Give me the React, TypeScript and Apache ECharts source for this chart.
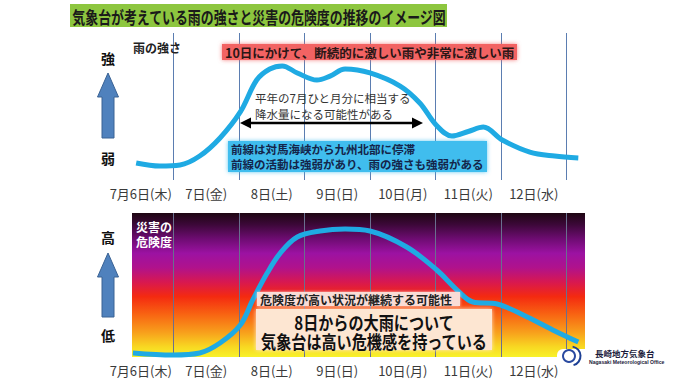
import React, { useEffect, useRef } from 'react';
import * as echarts from 'echarts';

// Day labels (category axis, one per day; last slot is padding)
const dayLabels = ['7月6日(木)', '7日(金)', '8日(土)', '9日(日)', '10日(月)', '11日(火)', '12日(水)', ''];

// Rain intensity curve (x in days from the start of 7/6, y relative level 0-100)
const rainDays = [0.43, 0.79, 1.10, 1.40, 1.71, 2.02, 2.27, 2.47, 2.66, 2.89, 3.19, 3.39, 3.62, 4.0, 4.46, 4.76, 5.01, 5.25, 5.50, 5.73, 6.02, 6.44, 6.82, 7.18];
const rainLevel = [11.6, 9.5, 10.2, 16.3, 28.6, 46.3, 68.0, 75.5, 77.6, 72.8, 68.0, 70.7, 75.5, 72.8, 63.9, 52.4, 37.4, 29.9, 33.0, 36.0, 27.2, 19.0, 16.3, 15.0];

// Disaster risk curve
const riskDays = [0.38, 0.99, 1.40, 1.71, 2.02, 2.21, 2.43, 2.63, 2.89, 3.24, 3.62, 4.0, 4.56, 5.02, 5.33, 5.57, 5.94, 6.40, 6.79, 7.18];
const riskLevel = [2.8, 1.4, 2.8, 9.7, 22.2, 39.6, 58.3, 72.2, 83.3, 87.5, 88.9, 87.5, 76.4, 60.4, 46.5, 38.2, 36.8, 27.8, 18.8, 10.4];

const FONT = "'Noto Sans CJK JP', 'Noto Sans CJK SC', sans-serif";

const txt = (text: string, x: number, y: number, size: number, opts: any = {}) => ({
  type: 'text',
  x,
  y,
  z: 100,
  scaleX: opts.scaleX ?? 1,
  style: {
    text,
    fill: opts.fill ?? '#222',
    font: `${opts.weight ?? 'bold'} ${size}px ${FONT}`,
    textAlign: opts.align ?? 'left',
    textVerticalAlign: 'middle',
  },
});

const upArrow = (top: number, headBase: number, bottom: number) => ({
  type: 'polygon',
  z: 100,
  shape: {
    points: [
      [108, top], [118.5, headBase], [114, headBase], [114, bottom],
      [102, bottom], [102, headBase], [97.5, headBase],
    ],
  },
  style: { fill: '#4f81bd', stroke: '#3a6294', lineWidth: 1 },
});

export default function App() {
  const ref = useRef<HTMLDivElement>(null);

  useEffect(() => {
    document.body.style.margin = '0';
    const chart = echarts.init(ref.current!, undefined, { renderer: 'svg' });

    const valueX = (gridIndex: number, color: string) => ({
      type: 'value',
      gridIndex,
      min: 0,
      max: 8,
      interval: 1,
      axisLabel: { show: false },
      axisLine: { show: false },
      axisTick: { show: false },
      splitLine: { show: true, showMinLine: false, showMaxLine: false, lineStyle: { color, width: 1 } },
    });
    const catX = (gridIndex: number) => ({
      type: 'category',
      gridIndex,
      data: dayLabels,
      boundaryGap: true,
      position: 'bottom',
      axisLine: { show: false },
      axisTick: { show: false },
      splitLine: { show: false },
      axisLabel: { interval: 0, margin: 7, fontSize: 13, color: '#3a3a3a', fontFamily: FONT },
    });

    const gradient = new echarts.graphic.LinearGradient(0, 0, 0, 1, [
      { offset: 0, color: '#1e0612' },
      { offset: 0.08, color: '#3c0838' },
      { offset: 0.18, color: '#6e0c72' },
      { offset: 0.28, color: '#9c12a2' },
      { offset: 0.38, color: '#b0128c' },
      { offset: 0.48, color: '#d81850' },
      { offset: 0.58, color: '#f42a10' },
      { offset: 0.7, color: '#f86212' },
      { offset: 0.83, color: '#f8a01c' },
      { offset: 0.93, color: '#f8d822' },
      { offset: 1, color: '#f8f22a' },
    ]);

    chart.setOption({
      animation: false,
      backgroundColor: '#ffffff',
      textStyle: { fontFamily: FONT },
      grid: [
        { left: 108, top: 33, width: 524, height: 147 },
        { left: 108, top: 213, width: 524, height: 144 },
      ],
      xAxis: [valueX(0, '#5b7db1'), catX(0), valueX(1, '#6a6f8e'), catX(1)],
      yAxis: [
        { type: 'value', gridIndex: 0, min: 0, max: 100, show: false },
        { type: 'value', gridIndex: 1, min: 0, max: 100, show: false },
      ],
      series: [
        {
          type: 'line',
          xAxisIndex: 0,
          yAxisIndex: 0,
          data: rainDays.map((d, i) => [d, rainLevel[i]]),
          smooth: 0.35,
          showSymbol: false,
          lineStyle: { width: 5, color: '#1faae3' },
          z: 5,
        },
        {
          type: 'line',
          xAxisIndex: 2,
          yAxisIndex: 1,
          data: riskDays.map((d, i) => [d, riskLevel[i]]),
          smooth: 0.35,
          showSymbol: false,
          lineStyle: { width: 5, color: '#1faae3' },
          z: 5,
        },
      ],
      graphic: [
        // title
        { type: 'rect', z: 90, shape: { x: 70, y: 4, width: 377, height: 23 }, style: { fill: '#8dc63f' } },
        txt('気象台が考えている雨の強さと災害の危険度の推移のイメージ図', 259, 16, 17, { scaleX: 0.76, align: 'center', fill: '#1a1a1a' }),
        // top panel side labels
        txt('雨の強さ', 133, 47, 12),
        txt('強', 108, 58, 14, { align: 'center', fill: '#111' }),
        txt('弱', 108, 158, 14, { align: 'center', fill: '#111' }),
        upArrow(73, 97, 138),
        // red box
        {
          type: 'rect', z: 95, shape: { x: 222, y: 44, width: 295, height: 16 },
          style: { fill: '#f26464', shadowBlur: 4, shadowColor: 'rgba(242,100,100,0.8)' },
        },
        txt('10日にかけて、断続的に激しい雨や非常に激しい雨', 225, 52, 12.5, { fill: '#2a1616' }),
        // normal-month text + arrow
        txt('平年の7月ひと月分に相当する', 255, 98, 11.5, { weight: 'normal', fill: '#333' }),
        txt('降水量になる可能性がある', 255, 114, 11.5, { weight: 'normal', fill: '#333' }),
        { type: 'line', z: 100, shape: { x1: 248, y1: 123, x2: 415, y2: 123 }, style: { stroke: '#000', lineWidth: 2.5 } },
        { type: 'polygon', z: 100, shape: { points: [[240, 123], [251, 117.5], [251, 128.5]] }, style: { fill: '#000' } },
        { type: 'polygon', z: 100, shape: { points: [[423, 123], [412, 117.5], [412, 128.5]] }, style: { fill: '#000' } },
        // blue box
        {
          type: 'rect', z: 95, shape: { x: 228, y: 141, width: 259, height: 31 },
          style: { fill: '#41bdee', shadowBlur: 4, shadowColor: 'rgba(65,189,238,0.8)' },
        },
        txt('前線は対馬海峡から九州北部に停滞', 231, 149, 11.5, { fill: '#14254a' }),
        txt('前線の活動は強弱があり、雨の強さも強弱がある', 231, 164, 11.5, { fill: '#14254a' }),
        // bottom gradient
        { type: 'rect', z: -1, shape: { x: 132, y: 213, width: 453, height: 144 }, style: { fill: gradient } },
        txt('災害の', 136, 226, 12, { fill: '#ffffff' }),
        txt('危険度', 136, 241.5, 12, { fill: '#ffffff' }),
        txt('高', 108, 237, 14, { align: 'center', fill: '#111' }),
        txt('低', 108, 335, 14, { align: 'center', fill: '#111' }),
        upArrow(253, 277, 317),
        // risk boxes
        {
          type: 'rect', z: 95, shape: { x: 257, y: 292, width: 203, height: 14 },
          style: { fill: '#f9dcd6', shadowBlur: 3, shadowColor: 'rgba(255,230,225,0.9)' },
        },
        txt('危険度が高い状況が継続する可能性', 260, 299, 12, { fill: '#222' }),
        {
          type: 'rect', z: 95, shape: { x: 256, y: 309, width: 236, height: 41 },
          style: { fill: '#fde6d2', shadowBlur: 4, shadowColor: 'rgba(255,240,220,0.9)' },
        },
        txt('8日からの大雨について', 374, 322, 18, { scaleX: 0.84, align: 'center', fill: '#111' }),
        txt('気象台は高い危機感を持っている', 374, 341, 18, { scaleX: 0.84, align: 'center', fill: '#111' }),
        // logo
        { type: 'rect', z: 96, shape: { x: 557, y: 349, width: 30, height: 10, r: [6, 0, 0, 0] }, style: { fill: '#ffffff' } },
        { type: 'circle', z: 100, shape: { cx: 569, cy: 356, r: 7 }, style: { fill: '#2a4aa0' } },
        { type: 'circle', z: 101, shape: { cx: 569, cy: 356, r: 5 }, style: { fill: '#ffffff' } },
        txt('U', 569, 356.5, 8, { align: 'center', fill: '#2a4aa0' }),
        { type: 'arc', z: 100, shape: { cx: 571, cy: 356, r: 9.5, startAngle: -1.4, endAngle: 1.3 }, style: { stroke: '#1c3f94', lineWidth: 2, fill: 'none' } },
        txt('長崎地方気象台', 595, 353, 8.5, { fill: '#1a1a3a' }),
        { type: 'text', x: 589, y: 361.5, z: 100, scaleX: 0.85, style: { text: 'Nagasaki Meteorological Office', fill: '#1a1a3a', font: "bold 6px 'Liberation Sans', sans-serif", textAlign: 'left', textVerticalAlign: 'middle' } },
      ],
    });

    return () => chart.dispose();
  }, []);

  return <div ref={ref} style={{ position: 'absolute', left: 0, top: 0, width: 680, height: 382 }} />;
}
